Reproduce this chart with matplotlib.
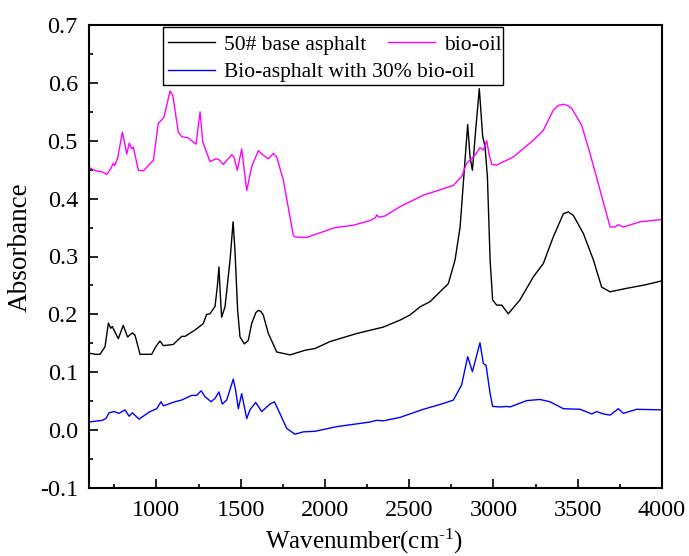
import matplotlib
matplotlib.use("Agg")
import matplotlib.pyplot as plt
from matplotlib.patches import Rectangle
from matplotlib.ticker import MultipleLocator, FormatStrFormatter

plt.rcParams['font.family'] = ['Liberation Serif', 'DejaVu Serif']
plt.rcParams['axes.unicode_minus'] = False
plt.rcParams['mathtext.fontset'] = 'custom'
plt.rcParams['mathtext.rm'] = 'Liberation Serif'
plt.rcParams['mathtext.it'] = 'Liberation Serif:italic'

# 50# base asphalt
base_x = [600, 640, 665, 695, 715, 729, 738, 774, 803, 829, 857, 873, 903, 972, 996,
          1021, 1041, 1100, 1150, 1170, 1229, 1278, 1298, 1318, 1348, 1362, 1371, 1378,
          1387, 1407, 1437, 1455, 1466, 1482, 1496, 1522, 1545, 1565, 1590, 1605, 1620,
          1634, 1664, 1714, 1793, 1882, 1941, 2030, 2189, 2346, 2445, 2505, 2564, 2624,
          2693, 2732, 2772, 2802, 2831, 2847, 2861, 2875, 2896, 2916, 2936, 2950, 2964,
          2980, 2995, 3019, 3049, 3088, 3157, 3237, 3296, 3355, 3415, 3444, 3474, 3533,
          3593, 3642, 3692, 3790, 3900, 4000]
base_y = [0.133, 0.131, 0.131, 0.144, 0.185, 0.176, 0.179, 0.158, 0.181, 0.161, 0.168,
          0.164, 0.131, 0.131, 0.144, 0.154, 0.146, 0.148, 0.162, 0.162, 0.173, 0.184,
          0.200, 0.201, 0.214, 0.250, 0.282, 0.240, 0.195, 0.213, 0.294, 0.360, 0.311,
          0.207, 0.161, 0.149, 0.155, 0.184, 0.203, 0.207, 0.205, 0.199, 0.167, 0.135,
          0.130, 0.138, 0.141, 0.153, 0.167, 0.178, 0.190, 0.199, 0.213, 0.222, 0.242,
          0.253, 0.294, 0.351, 0.466, 0.528, 0.472, 0.449, 0.524, 0.590, 0.507, 0.490,
          0.438, 0.294, 0.225, 0.216, 0.216, 0.201, 0.225, 0.265, 0.288, 0.334, 0.374,
          0.377, 0.371, 0.340, 0.294, 0.247, 0.239, 0.245, 0.251, 0.258]

# bio-oil
oil_x = [600, 640, 680, 705, 730, 743, 752, 770, 798, 812, 824, 839, 853, 863, 893, 922,
         962, 982, 1011, 1031, 1045, 1081, 1097, 1130, 1150, 1189, 1235, 1259, 1275, 1318,
         1354, 1373, 1397, 1447, 1460, 1480, 1506, 1536, 1565, 1605, 1634, 1664, 1694,
         1714, 1753, 1812, 1822, 1872, 1892, 1971, 2060, 2168, 2267, 2300, 2307, 2320,
         2356, 2445, 2584, 2702, 2762, 2811, 2841, 2891, 2920, 2940, 2960, 2975, 2990,
         3019, 3118, 3237, 3296, 3355, 3385, 3415, 3440, 3464, 3523, 3573, 3632, 3692,
         3721, 3741, 3771, 3870, 4000]
oil_y = [0.454, 0.448, 0.446, 0.442, 0.452, 0.461, 0.457, 0.470, 0.515, 0.495, 0.477,
         0.496, 0.486, 0.489, 0.449, 0.448, 0.460, 0.466, 0.530, 0.536, 0.541, 0.586,
         0.579, 0.515, 0.507, 0.505, 0.494, 0.550, 0.498, 0.464, 0.469, 0.467, 0.459,
         0.476, 0.472, 0.449, 0.486, 0.414, 0.455, 0.483, 0.475, 0.469, 0.478, 0.472,
         0.432, 0.337, 0.334, 0.333, 0.333, 0.341, 0.350, 0.354, 0.362, 0.367, 0.372,
         0.368, 0.370, 0.386, 0.406, 0.417, 0.423, 0.438, 0.461, 0.475, 0.488, 0.484,
         0.500, 0.475, 0.459, 0.458, 0.472, 0.501, 0.518, 0.553, 0.561, 0.563, 0.561,
         0.556, 0.527, 0.478, 0.415, 0.351, 0.351, 0.355, 0.351, 0.360, 0.364]

# Bio-asphalt with 30% bio-oil
mix_x = [600, 680, 700, 719, 749, 778, 814, 838, 857, 897, 962, 1002, 1027, 1041, 1110,
         1150, 1209, 1239, 1265, 1288, 1324, 1348, 1371, 1391, 1417, 1456, 1470, 1486,
         1506, 1536, 1555, 1589, 1625, 1654, 1674, 1700, 1723, 1773, 1822, 1872, 1941,
         2070, 2267, 2307, 2346, 2445, 2584, 2702, 2762, 2811, 2847, 2875, 2920, 2940,
         2956, 2980, 2995, 3039, 3078, 3098, 3197, 3276, 3335, 3415, 3514, 3583, 3612,
         3652, 3692, 3741, 3771, 3850, 4000]
mix_y = [0.014, 0.017, 0.020, 0.030, 0.032, 0.029, 0.035, 0.024, 0.030, 0.019, 0.032,
         0.037, 0.049, 0.042, 0.049, 0.052, 0.060, 0.060, 0.068, 0.058, 0.049, 0.055,
         0.066, 0.045, 0.052, 0.088, 0.069, 0.037, 0.063, 0.020, 0.035, 0.048, 0.032,
         0.040, 0.045, 0.049, 0.035, 0.003, -0.007, -0.003, -0.002, 0.006, 0.014, 0.017,
         0.016, 0.022, 0.036, 0.046, 0.052, 0.078, 0.127, 0.101, 0.151, 0.115, 0.112,
         0.063, 0.041, 0.040, 0.041, 0.040, 0.051, 0.053, 0.049, 0.037, 0.036, 0.028,
         0.032, 0.028, 0.026, 0.037, 0.029, 0.036, 0.035]

fig = plt.figure(figsize=(6.89, 5.56), dpi=100)
ax = fig.add_axes([89 / 689, 1 - 488 / 556, 573 / 689, 463 / 556])

l_base, = ax.plot(base_x, base_y, color='black', lw=1.0)
l_oil, = ax.plot(oil_x, oil_y, color='#ff00ff', lw=1.0)
l_mix, = ax.plot(mix_x, mix_y, color='#0000ff', lw=1.0)

ax.set_xlim(600, 4000)
ax.set_ylim(-0.1, 0.7)
ax.xaxis.set_major_locator(MultipleLocator(500))
ax.xaxis.set_minor_locator(MultipleLocator(250))
ax.yaxis.set_major_locator(MultipleLocator(0.1))
ax.yaxis.set_minor_locator(MultipleLocator(0.05))
ax.yaxis.set_major_formatter(FormatStrFormatter('%.1f'))
ax.tick_params(which='both', direction='in', labelsize=17.5, width=1.2)
ax.tick_params(which='major', length=6.5)
ax.tick_params(which='minor', length=3)
ax.tick_params(axis='x', pad=9)
ax.tick_params(axis='y', pad=8)
for s in ax.spines.values():
    s.set_linewidth(1.5)

ax.set_xlabel('Wavenumber(cm$^{\u20101}$)', fontsize=18)
ax.set_ylabel('Absorbance', fontsize=19.5)
ax.xaxis.set_label_coords(0.48, -0.083)
ax.yaxis.set_label_coords(-0.098, 0.52)

# legend: drawn as two frameless rows inside one hand-made box
leg_kw = dict(loc='center left', frameon=False, fontsize=15.5, borderpad=0,
              borderaxespad=0, handlelength=2.2, handletextpad=0.4)
fig.legend([l_base, l_oil], ['50# base asphalt', 'bio-oil'], ncol=2,
           bbox_to_anchor=(168 / 689, 1 - 45 / 556), columnspacing=1.0, **leg_kw)
fig.legend([l_mix], ['Bio-asphalt with 30% bio-oil'],
           bbox_to_anchor=(168 / 689, 1 - 72 / 556), **leg_kw)
fig.patches.append(Rectangle((163 / 689, 1 - 85 / 556), 340 / 689, 58 / 556,
                             transform=fig.transFigure, fill=False,
                             edgecolor='black', lw=1.0))

fig.savefig('out.png', dpi=100)
